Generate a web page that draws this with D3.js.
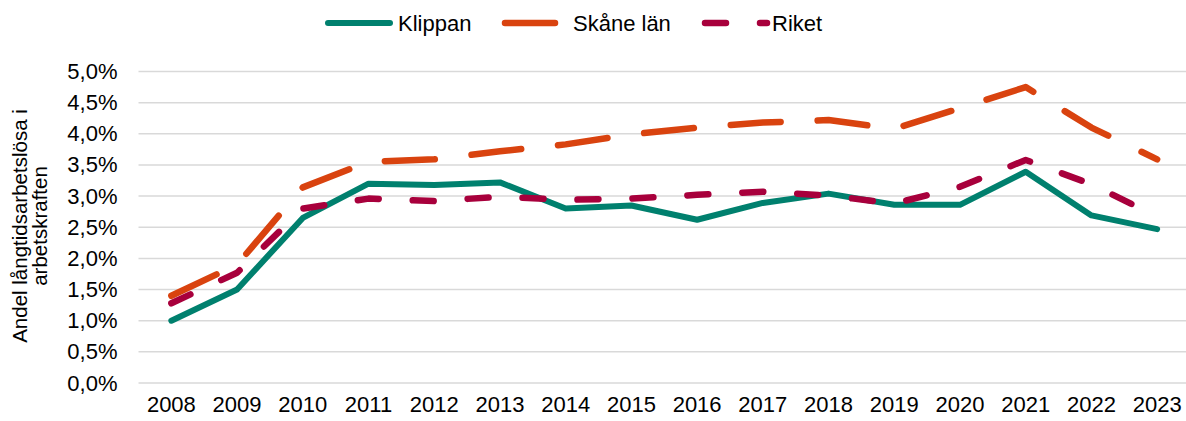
<!DOCTYPE html>
<html>
<head>
<meta charset="utf-8">
<script src="https://cdn.jsdelivr.net/npm/d3@7"></script>
<style>
  body { margin: 0; background: #fff; }
  svg { display: block; font-family: "Liberation Sans", Arial, sans-serif; }
</style>
</head>
<body>
<svg id="chart" width="1186" height="421"></svg>
<script>
// data
const years = ['2008','2009','2010','2011','2012','2013','2014','2015','2016','2017','2018','2019','2020','2021','2022','2023'];
const klippan = [1.00, 1.50, 2.65, 3.20, 3.18, 3.22, 2.80, 2.85, 2.62, 2.89, 3.04, 2.86, 2.86, 3.39, 2.69, 2.47];
const skane   = [1.40, 1.90, 3.14, 3.55, 3.59, 3.72, 3.83, 3.99, 4.10, 4.18, 4.22, 4.08, 4.41, 4.75, 4.10, 3.59];
const riket   = [1.28, 1.77, 2.80, 2.96, 2.92, 2.99, 2.94, 2.96, 3.02, 3.07, 3.01, 2.88, 3.15, 3.58, 3.19, 2.67];
const yTicks  = [0, 0.5, 1, 1.5, 2, 2.5, 3, 3.5, 4, 4.5, 5];

const series = [
  { name: 'Klippan',   values: klippan, color: '#00806E', width: 6,   dash: null,    legX: 328, legText: 398 },
  { name: 'Skåne län', values: skane,   color: '#D9430F', width: 6.5, dash: '50,37', legX: 505, legText: 573 },
  { name: 'Riket',     values: riket,   color: '#A8003C', width: 6.5, dash: '21,34', legX: 705, legText: 772 }
];

const svg = d3.select('#chart');

const x = d3.scaleBand().domain(years).range([138.5, 1190]);
const xc = d => x(d) + x.bandwidth() / 2;
const y = d3.scaleLinear().domain([0, 5]).range([383, 71.5]);
const fmt = v => d3.format('.1f')(v).replace('.', ',') + '%';

// gridlines
svg.append('g')
  .selectAll('line')
  .data(yTicks)
  .join('line')
  .attr('x1', 138.5)
  .attr('x2', 1190)
  .attr('y1', d => y(d))
  .attr('y2', d => y(d))
  .attr('stroke', '#d9d9d9')
  .attr('stroke-width', 1.5);

// y axis labels
const yAxis = svg.append('g')
  .attr('transform', 'translate(138.5,0)')
  .call(d3.axisLeft(y).tickValues(yTicks).tickFormat(fmt).tickSize(0).tickPadding(21));
yAxis.select('.domain').remove();
yAxis.selectAll('text')
  .attr('font-size', 22)
  .attr('font-family', '"Liberation Sans", Arial, sans-serif')
  .attr('fill', '#000');

// x axis labels
const xAxis = svg.append('g')
  .attr('transform', 'translate(0,383)')
  .call(d3.axisBottom(x).tickSize(0).tickPadding(13));
xAxis.select('.domain').remove();
xAxis.selectAll('text')
  .attr('font-size', 22)
  .attr('font-family', '"Liberation Sans", Arial, sans-serif')
  .attr('fill', '#000');

// y title
const title = svg.append('text')
  .attr('transform', 'translate(0,226) rotate(-90)')
  .attr('text-anchor', 'middle')
  .attr('font-size', 20.5)
  .attr('fill', '#000');
title.append('tspan').attr('x', 0).attr('y', 27).text('Andel långtidsarbetslösa i');
title.append('tspan').attr('x', 0).attr('y', 47).text('arbetskraften');

// lines
const line = d3.line()
  .x((d, i) => xc(years[i]))
  .y(d => y(d));

svg.append('g')
  .selectAll('path')
  .data(series)
  .join('path')
  .attr('d', d => line(d.values))
  .attr('fill', 'none')
  .attr('stroke', d => d.color)
  .attr('stroke-width', d => d.width)
  .attr('stroke-dasharray', d => d.dash)
  .attr('stroke-linecap', 'round')
  .attr('stroke-linejoin', 'round');

// legend
const leg = svg.append('g');
leg.selectAll('line')
  .data(series)
  .join('line')
  .attr('x1', d => d.legX)
  .attr('x2', d => d.legX + 62)
  .attr('y1', 23)
  .attr('y2', 23)
  .attr('stroke', d => d.color)
  .attr('stroke-width', d => d.width)
  .attr('stroke-dasharray', d => d.dash)
  .attr('stroke-linecap', 'round');
leg.selectAll('text')
  .data(series)
  .join('text')
  .attr('x', d => d.legText)
  .attr('y', 23)
  .attr('dy', '0.35em')
  .attr('font-size', 22)
  .attr('fill', '#000')
  .text(d => d.name);
</script>
</body>
</html>
